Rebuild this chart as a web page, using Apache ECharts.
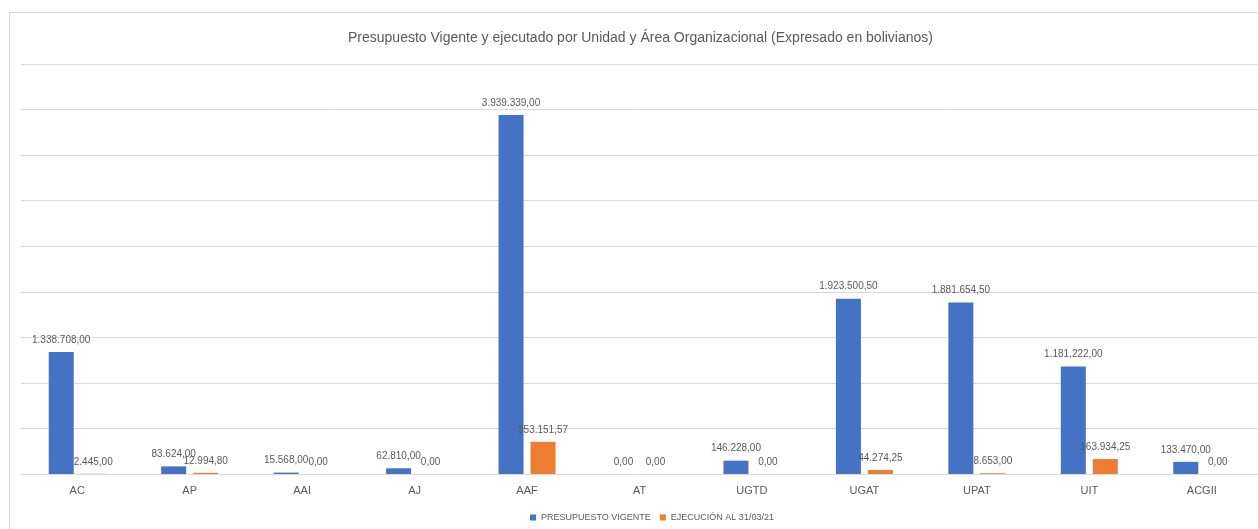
<!DOCTYPE html>
<html>
<head>
<meta charset="utf-8">
<title>Presupuesto Vigente y ejecutado</title>
<script src="https://cdn.jsdelivr.net/npm/echarts@6/dist/echarts.min.js"></script>
<style>
    html, body {margin: 0; padding: 0; background: #fff;}
    #chart {width: 1258px; height: 529px;}
</style>
</head>
<body>
<div id="chart"></div>
<script>
const units = ['AC', 'AP', 'AAI', 'AJ', 'AAF', 'AT', 'UGTD', 'UGAT', 'UPAT', 'UIT', 'ACGII'];
const presupuesto = [1338708, 83624, 15568, 62810, 3939339, 0, 146228, 1923500.5, 1881654.5, 1181222, 133470];
const ejecucion = [2445, 12994.8, 0, 0, 353151.57, 0, 0, 44274.25, 8653, 163934.25, 0];
const seriesNames = ['PRESUPUESTO VIGENTE', 'EJECUCIÓN AL 31/03/21'];

const font = '"Liberation Sans Narrow", "Liberation Sans", sans-serif';
const gray = '#595959';

// Spanish style number: 1.338.708,00
const fmt = v => {
    const [int, dec] = v.toFixed(2).split('.');
    return int.replace(/\B(?=(\d{3})+(?!\d))/g, '.') + ',' + dec;
};

const label = {
    show: true,
    position: 'top',
    distance: 7,
    color: gray,
    fontFamily: font,
    fontSize: 10,
    formatter: p => fmt(p.value),
};

const chart = echarts.init(document.getElementById('chart'));
chart.setOption({
    animation: false,
    textStyle: {fontFamily: font},
    title: {
        text: 'Presupuesto Vigente y ejecutado por Unidad y Área Organizacional (Expresado en bolivianos)',
        left: 343,
        top: 26,
        textStyle: {color: gray, fontFamily: font, fontSize: 14, fontWeight: 'normal'},
    },
    graphic: [{
        type: 'rect',
        shape: {x: 9.5, y: 12.5, width: 1400, height: 700},
        style: {fill: 'none', stroke: '#d9d9d9', lineWidth: 1},
        silent: true,
        z: -1,
    }],
    legend: {
        bottom: 2,
        left: 525,
        itemWidth: 6,
        itemHeight: 6,
        itemGap: 9,
        icon: 'rect',
        textStyle: {color: gray, fontFamily: font, fontSize: 9},
        data: seriesNames,
    },
    grid: {left: 21, right: -1, top: 64, bottom: 55, containLabel: false},
    xAxis: {
        type: 'category',
        data: units,
        axisLine: {lineStyle: {color: '#d9d9d9'}},
        axisTick: {show: false},
        axisLabel: {color: gray, fontFamily: font, fontSize: 11, margin: 11},
    },
    yAxis: {
        type: 'value',
        min: 0,
        max: 4500000,
        interval: 500000,
        axisLabel: {show: false},
        axisLine: {show: false},
        axisTick: {show: false},
        splitLine: {lineStyle: {color: '#d9d9d9'}},
    },
    series: [{
        name: seriesNames[0],
        type: 'bar',
        data: presupuesto,
        barWidth: 25,
        barGap: '28%',
        itemStyle: {color: '#4472c4'},
        label,
    }, {
        name: seriesNames[1],
        type: 'bar',
        data: ejecucion,
        barWidth: 25,
        itemStyle: {color: '#ed7d31'},
        label,
    }],
});
</script>
</body>
</html>
